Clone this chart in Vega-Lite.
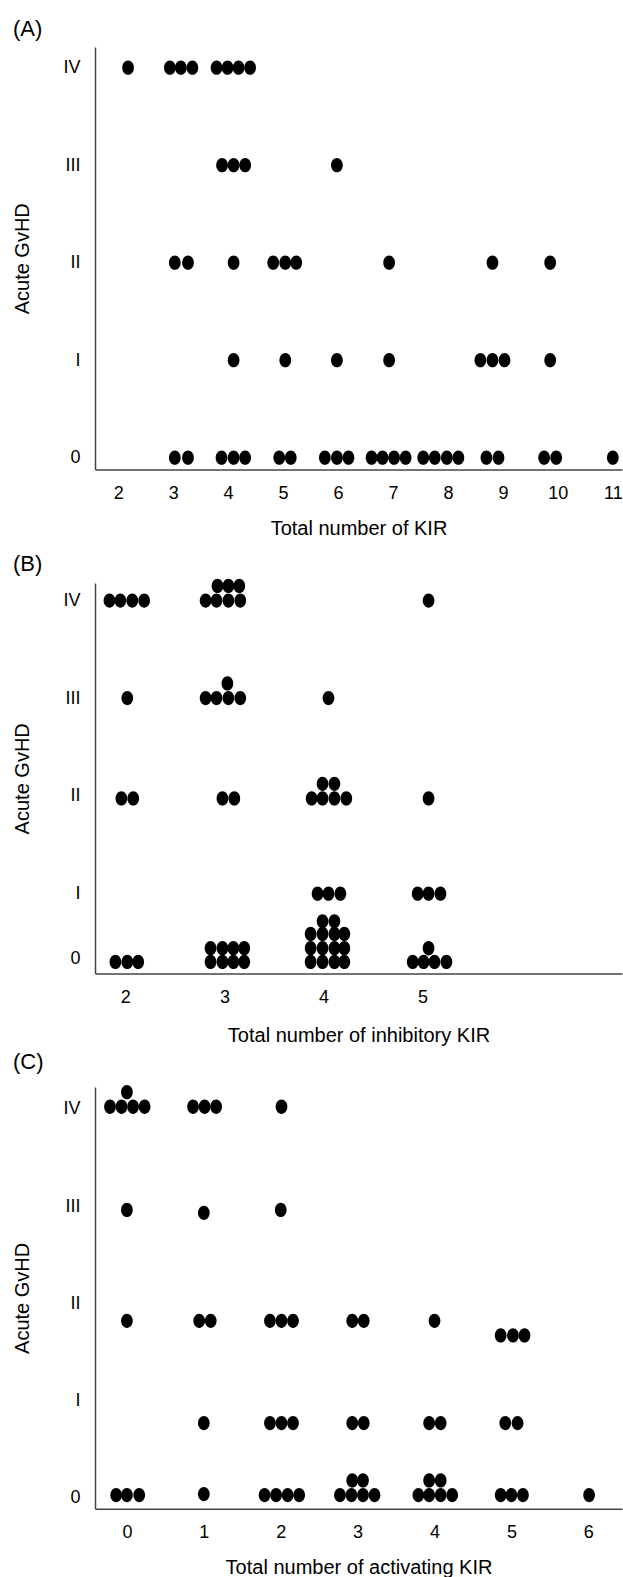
{
  "$schema": "https://vega.github.io/schema/vega-lite/v6.json",
  "padding": {"left": 12, "top": 17, "right": 0, "bottom": 0},
  "background": "white",
  "spacing": 113,
  "bounds": "flush",
  "config": {
    "view": {"stroke": null},
    "font": "Liberation Sans",
    "axis": {
      "grid": false,
      "ticks": false,
      "tickSize": 0,
      "domainColor": "#444444",
      "domainWidth": 1.5,
      "labelFont": "Liberation Sans",
      "labelFontSize": 18,
      "labelColor": "black",
      "labelFlush": false,
      "labelOverlap": false,
      "titleFont": "Liberation Sans",
      "titleFontSize": 20,
      "titleFontWeight": "normal",
      "titleColor": "black"
    },
    "axisX": {"labelPadding": 15, "titlePadding": 16},
    "axisY": {"labelPadding": 15, "titlePadding": 30},
    "title": {"font": "Liberation Sans", "fontSize": 22, "fontWeight": "normal", "color": "black", "anchor": "start", "frame": "bounds", "baseline": "alphabetic"}
  },
  "datasets": {
    "a": [
      {"kir": 2.18, "gvhd": 4}, {"kir": 2.94, "gvhd": 4}, {"kir": 3.14, "gvhd": 4}, {"kir": 3.35, "gvhd": 4},
      {"kir": 3.79, "gvhd": 4}, {"kir": 3.99, "gvhd": 4}, {"kir": 4.19, "gvhd": 4}, {"kir": 4.40, "gvhd": 4},
      {"kir": 3.89, "gvhd": 3}, {"kir": 4.10, "gvhd": 3}, {"kir": 4.31, "gvhd": 3}, {"kir": 5.98, "gvhd": 3},
      {"kir": 3.03, "gvhd": 2}, {"kir": 3.27, "gvhd": 2}, {"kir": 4.10, "gvhd": 2}, {"kir": 4.82, "gvhd": 2},
      {"kir": 5.04, "gvhd": 2}, {"kir": 5.24, "gvhd": 2}, {"kir": 6.93, "gvhd": 2}, {"kir": 8.81, "gvhd": 2},
      {"kir": 9.86, "gvhd": 2},
      {"kir": 4.10, "gvhd": 1}, {"kir": 5.04, "gvhd": 1}, {"kir": 5.98, "gvhd": 1}, {"kir": 6.93, "gvhd": 1},
      {"kir": 8.59, "gvhd": 1}, {"kir": 8.81, "gvhd": 1}, {"kir": 9.03, "gvhd": 1}, {"kir": 9.86, "gvhd": 1},
      {"kir": 3.03, "gvhd": 0}, {"kir": 3.27, "gvhd": 0}, {"kir": 3.88, "gvhd": 0}, {"kir": 4.10, "gvhd": 0},
      {"kir": 4.31, "gvhd": 0}, {"kir": 4.93, "gvhd": 0}, {"kir": 5.14, "gvhd": 0}, {"kir": 5.76, "gvhd": 0},
      {"kir": 5.98, "gvhd": 0}, {"kir": 6.19, "gvhd": 0}, {"kir": 6.61, "gvhd": 0}, {"kir": 6.81, "gvhd": 0},
      {"kir": 7.02, "gvhd": 0}, {"kir": 7.23, "gvhd": 0}, {"kir": 7.55, "gvhd": 0}, {"kir": 7.76, "gvhd": 0},
      {"kir": 7.98, "gvhd": 0}, {"kir": 8.19, "gvhd": 0}, {"kir": 8.70, "gvhd": 0}, {"kir": 8.92, "gvhd": 0},
      {"kir": 9.75, "gvhd": 0}, {"kir": 9.97, "gvhd": 0}, {"kir": 11.00, "gvhd": 0}
    ],
    "b": [
      {"kir": 1.84, "gvhd": 4}, {"kir": 1.95, "gvhd": 4}, {"kir": 2.07, "gvhd": 4}, {"kir": 2.19, "gvhd": 4},
      {"kir": 2.81, "gvhd": 4}, {"kir": 2.92, "gvhd": 4}, {"kir": 3.04, "gvhd": 4}, {"kir": 3.16, "gvhd": 4},
      {"kir": 5.06, "gvhd": 4},
      {"kir": 2.93, "gvhd": 4.15}, {"kir": 3.04, "gvhd": 4.15}, {"kir": 3.15, "gvhd": 4.15},
      {"kir": 2.02, "gvhd": 3}, {"kir": 2.81, "gvhd": 3}, {"kir": 2.92, "gvhd": 3}, {"kir": 3.04, "gvhd": 3},
      {"kir": 3.16, "gvhd": 3}, {"kir": 4.05, "gvhd": 3}, {"kir": 3.03, "gvhd": 3.15},
      {"kir": 1.96, "gvhd": 1.97}, {"kir": 2.08, "gvhd": 1.97}, {"kir": 2.98, "gvhd": 1.97}, {"kir": 3.10, "gvhd": 1.97},
      {"kir": 3.88, "gvhd": 1.97}, {"kir": 3.99, "gvhd": 1.97}, {"kir": 4.11, "gvhd": 1.97}, {"kir": 4.23, "gvhd": 1.97},
      {"kir": 5.06, "gvhd": 1.97}, {"kir": 3.99, "gvhd": 2.12}, {"kir": 4.11, "gvhd": 2.12},
      {"kir": 3.94, "gvhd": 0.99}, {"kir": 4.05, "gvhd": 0.99}, {"kir": 4.17, "gvhd": 0.99},
      {"kir": 4.95, "gvhd": 0.99}, {"kir": 5.06, "gvhd": 0.99}, {"kir": 5.18, "gvhd": 0.99},
      {"kir": 1.90, "gvhd": -0.06}, {"kir": 2.02, "gvhd": -0.06}, {"kir": 2.13, "gvhd": -0.06},
      {"kir": 2.86, "gvhd": -0.06}, {"kir": 2.98, "gvhd": -0.06}, {"kir": 3.09, "gvhd": -0.06}, {"kir": 3.20, "gvhd": -0.06},
      {"kir": 3.87, "gvhd": -0.06}, {"kir": 3.99, "gvhd": -0.06}, {"kir": 4.11, "gvhd": -0.06}, {"kir": 4.21, "gvhd": -0.06},
      {"kir": 4.90, "gvhd": -0.06}, {"kir": 5.01, "gvhd": -0.06}, {"kir": 5.12, "gvhd": -0.06}, {"kir": 5.24, "gvhd": -0.06},
      {"kir": 2.86, "gvhd": 0.15}, {"kir": 2.98, "gvhd": 0.15}, {"kir": 3.09, "gvhd": 0.15}, {"kir": 3.20, "gvhd": 0.15},
      {"kir": 3.87, "gvhd": 0.15}, {"kir": 3.99, "gvhd": 0.15}, {"kir": 4.11, "gvhd": 0.15}, {"kir": 4.21, "gvhd": 0.15},
      {"kir": 5.06, "gvhd": 0.15},
      {"kir": 3.87, "gvhd": 0.37}, {"kir": 3.99, "gvhd": 0.37}, {"kir": 4.11, "gvhd": 0.37}, {"kir": 4.21, "gvhd": 0.37},
      {"kir": 3.99, "gvhd": 0.565}, {"kir": 4.11, "gvhd": 0.565}
    ],
    "c": [
      {"kir": -0.22, "gvhd": 4.02}, {"kir": -0.07, "gvhd": 4.02}, {"kir": 0.08, "gvhd": 4.02}, {"kir": 0.23, "gvhd": 4.02},
      {"kir": 0.86, "gvhd": 4.02}, {"kir": 1.01, "gvhd": 4.02}, {"kir": 1.16, "gvhd": 4.02}, {"kir": 2.01, "gvhd": 4.02},
      {"kir": 0.0, "gvhd": 4.17},
      {"kir": 0.0, "gvhd": 2.96}, {"kir": 1.0, "gvhd": 2.93}, {"kir": 2.0, "gvhd": 2.96},
      {"kir": 0.0, "gvhd": 1.82}, {"kir": 0.94, "gvhd": 1.82}, {"kir": 1.09, "gvhd": 1.82}, {"kir": 1.86, "gvhd": 1.82},
      {"kir": 2.01, "gvhd": 1.82}, {"kir": 2.16, "gvhd": 1.82}, {"kir": 2.93, "gvhd": 1.82}, {"kir": 3.08, "gvhd": 1.82},
      {"kir": 4.0, "gvhd": 1.82}, {"kir": 4.86, "gvhd": 1.67}, {"kir": 5.02, "gvhd": 1.67}, {"kir": 5.17, "gvhd": 1.67},
      {"kir": 1.0, "gvhd": 0.77}, {"kir": 1.86, "gvhd": 0.77}, {"kir": 2.01, "gvhd": 0.77}, {"kir": 2.16, "gvhd": 0.77},
      {"kir": 2.93, "gvhd": 0.77}, {"kir": 3.08, "gvhd": 0.77}, {"kir": 3.93, "gvhd": 0.77}, {"kir": 4.08, "gvhd": 0.77},
      {"kir": 4.92, "gvhd": 0.77}, {"kir": 5.08, "gvhd": 0.77},
      {"kir": -0.14, "gvhd": 0.03}, {"kir": 0.0, "gvhd": 0.03}, {"kir": 0.16, "gvhd": 0.03}, {"kir": 1.0, "gvhd": 0.04},
      {"kir": 1.79, "gvhd": 0.03}, {"kir": 1.94, "gvhd": 0.03}, {"kir": 2.09, "gvhd": 0.03}, {"kir": 2.24, "gvhd": 0.03},
      {"kir": 2.77, "gvhd": 0.03}, {"kir": 2.92, "gvhd": 0.03}, {"kir": 3.07, "gvhd": 0.03}, {"kir": 3.22, "gvhd": 0.03},
      {"kir": 3.79, "gvhd": 0.03}, {"kir": 3.93, "gvhd": 0.03}, {"kir": 4.08, "gvhd": 0.03}, {"kir": 4.23, "gvhd": 0.03},
      {"kir": 4.86, "gvhd": 0.03}, {"kir": 5.0, "gvhd": 0.03}, {"kir": 5.15, "gvhd": 0.03}, {"kir": 6.01, "gvhd": 0.03},
      {"kir": 2.93, "gvhd": 0.18}, {"kir": 3.07, "gvhd": 0.18}, {"kir": 3.93, "gvhd": 0.18}, {"kir": 4.08, "gvhd": 0.18}
    ]
  },
  "vconcat": [
    {
      "width": 527,
      "height": 422.5,
      "title": {"text": "(A)", "offset": 6.1},
      "data": {"name": "a"},
      "mark": {"type": "point", "filled": true, "opacity": 1, "color": "black", "size": 204, "shape": "M-0.82,0A0.82,1,0,1,0,0.82,0A0.82,1,0,1,0,-0.82,0Z"},
      "encoding": {
        "x": {"field": "kir", "type": "quantitative", "scale": {"domain": [1.578, 11.167], "nice": false, "zero": false}, "axis": {"values": [2, 3, 4, 5, 6, 7, 8, 9, 10, 11], "title": "Total number of KIR"}},
        "y": {"field": "gvhd", "type": "quantitative", "scale": {"domain": [-0.121, 4.212], "nice": false, "zero": false}, "axis": {"values": [0, 1, 2, 3, 4], "labelExpr": "['0','I','II','III','IV'][datum.value]", "title": "Acute GvHD"}}
      }
    },
    {
      "width": 527,
      "height": 390.6,
      "title": {"text": "(B)", "offset": 2.8},
      "data": {"name": "b"},
      "mark": {"type": "point", "filled": true, "opacity": 1, "color": "black", "size": 204, "shape": "M-0.82,0A0.82,1,0,1,0,0.82,0A0.82,1,0,1,0,-0.82,0Z"},
      "encoding": {
        "x": {"field": "kir", "type": "quantitative", "scale": {"domain": [1.694, 7.012], "nice": false, "zero": false}, "axis": {"values": [2, 3, 4, 5], "title": "Total number of inhibitory KIR", "titlePadding": 19}},
        "y": {"field": "gvhd", "type": "quantitative", "scale": {"domain": [-0.24, 1, 4.18], "range": [390.6, 310, 0], "nice": false, "zero": false}, "axis": {"values": [0, 1, 2, 3, 4], "labelExpr": "['0','I','II','III','IV'][datum.value]", "title": "Acute GvHD"}}
      }
    },
    {
      "width": 527,
      "height": 421.7,
      "title": {"text": "(C)", "offset": 11.3},
      "data": {"name": "c"},
      "mark": {"type": "point", "filled": true, "opacity": 1, "color": "black", "size": 204, "shape": "M-0.82,0A0.82,1,0,1,0,0.82,0A0.82,1,0,1,0,-0.82,0Z"},
      "encoding": {
        "x": {"field": "kir", "type": "quantitative", "scale": {"domain": [-0.415, 6.438], "nice": false, "zero": false}, "axis": {"values": [0, 1, 2, 3, 4, 5, 6], "title": "Total number of activating KIR"}},
        "y": {"field": "gvhd", "type": "quantitative", "scale": {"domain": [-0.11, 4.223], "nice": false, "zero": false}, "axis": {"values": [0, 1, 2, 3, 4], "labelExpr": "['0','I','II','III','IV'][datum.value]", "title": "Acute GvHD"}}
      }
    }
  ]
}
